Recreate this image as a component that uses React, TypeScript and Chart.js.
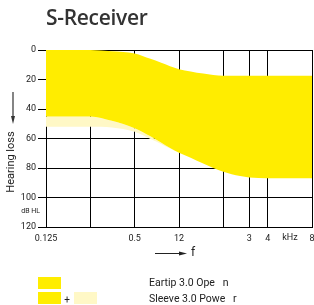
import React, { useEffect, useRef } from "react";
import { Chart, registerables } from "chart.js";

Chart.register(...registerables);

const TITLE = "S-Receiver";
const FREQS = [0.125, 0.25, 0.35, 0.5, 0.64, 0.75, 0.87, 1, 1.2, 1.46, 2, 2.6, 3, 4, 8];
const EARTIP_TOP = [0, 0, 0.8, 2.3, 6, 8.5, 11, 13, 14.5, 16, 17.5, 17.5, 17.5, 17.5, 17.5];
const EARTIP_BOTTOM = [45, 45, 48, 53, 58.5, 62.5, 66.5, 69.7, 73, 77, 82.6, 85.5, 86.5, 87, 87];
const SLEEVE_BOTTOM = [52, 52, 52.5, 55.5, 60.4, 63.5, 66.8, 69.7, 73, 77, 82.6, 85.5, 86.5, 87, 87];
const X_TICKS = [0.125, 0.25, 0.5, 1, 2, 3, 4, 8];
const X_LABELS = ["0.125", "", "0.5", "12", "", "3", "4", "8"];
const Y_TICKS = [0, 20, 40, 60, 80, 100, 120];
const LEGEND_LABELS = ["Eartip 3.0 Ope   n", "Sleeve 3.0 Powe   r"];
const YELLOW = "#FFED00";
const PALE = "#FFF8C6";
const FONT = "Roboto, 'Liberation Sans', sans-serif";

const extras = {
  id: "extras",
  afterDraw(chart: any) {
    const ctx = chart.ctx as CanvasRenderingContext2D;
    const xs = chart.scales.x;
    ctx.save();
    // y arrow
    ctx.strokeStyle = "#333";
    ctx.fillStyle = "#333";
    ctx.lineWidth = 1.2;
    ctx.beginPath();
    ctx.moveTo(13, 92);
    ctx.lineTo(13, 117);
    ctx.stroke();
    ctx.beginPath();
    ctx.moveTo(11, 116);
    ctx.lineTo(15, 116);
    ctx.lineTo(13, 124);
    ctx.closePath();
    ctx.fill();

    // y title
    ctx.save();
    ctx.translate(11, 162);
    ctx.rotate(-Math.PI / 2);
    ctx.font = `11px ${FONT}`;
    ctx.fillStyle = "#222";
    ctx.textAlign = "center";
    ctx.textBaseline = "middle";
    ctx.fillText("Hearing loss", 0, 0);
    ctx.restore();

    // dB HL
    ctx.font = `7px ${FONT}`;
    ctx.fillStyle = "#222";
    ctx.textAlign = "right";
    ctx.textBaseline = "middle";
    ctx.fillText("dB HL", 40, 211);

    // kHz
    ctx.font = `9px ${FONT}`;
    ctx.textAlign = "center";
    ctx.fillText("kHz", xs.getPixelForValue(5.66), 237.5);

    // x arrow
    ctx.lineWidth = 1;
    ctx.strokeStyle = "#222";
    ctx.fillStyle = "#222";
    ctx.beginPath();
    ctx.moveTo(155, 253.5);
    ctx.lineTo(180, 253.5);
    ctx.stroke();
    ctx.beginPath();
    ctx.moveTo(179, 251.5);
    ctx.lineTo(187, 253.5);
    ctx.lineTo(179, 255.5);
    ctx.closePath();
    ctx.fill();
    ctx.font = `12px ${FONT}`;
    ctx.textAlign = "left";
    ctx.fillText("f", 191, 253);

    // legend
    ctx.fillStyle = YELLOW;
    ctx.fillRect(38, 277, 23, 12);
    ctx.fillRect(38, 292, 23, 12);
    ctx.fillStyle = PALE;
    ctx.fillRect(74, 292, 23, 12);
    ctx.fillStyle = "#222";
    ctx.font = `10px ${FONT}`;
    ctx.textAlign = "center";
    ctx.fillText("+", 67, 300);
    ctx.textAlign = "left";
    ctx.font = `10.5px ${FONT}`;
    ctx.fillText(LEGEND_LABELS[0], 149, 283.5);
    ctx.fillText(LEGEND_LABELS[1], 149, 299);
    ctx.restore();
  },
};

export default function App() {
  const ref = useRef<HTMLCanvasElement | null>(null);
  useEffect(() => {
    if (!ref.current) return;
    const mk = (arr: number[]) => FREQS.map((f, i) => ({ x: f, y: arr[i] }));
    const common = {
      pointRadius: 0,
      borderWidth: 0,
      cubicInterpolationMode: "monotone" as const,
    };
    const chart = new Chart(ref.current, {
      type: "line",
      data: {
        datasets: [
          { ...common, label: "top", data: mk(EARTIP_TOP), fill: false, borderColor: "transparent" },
          { ...common, label: "eartip", data: mk(EARTIP_BOTTOM), fill: 0, backgroundColor: YELLOW, borderColor: "transparent" },
          { ...common, label: "sleeve", data: mk(SLEEVE_BOTTOM), fill: 1, backgroundColor: PALE, borderColor: "transparent" },
        ],
      },
      options: {
        animation: false,
        responsive: false,
        layout: { padding: { top: 50, left: 0, right: 2, bottom: 0 } },
        plugins: { legend: { display: false }, tooltip: { enabled: false }, title: { display: false } },
        scales: {
          x: {
            type: "logarithmic",
            min: 0.125,
            max: 8,
            z: 1,
            afterBuildTicks: (s: any) => {
              s.ticks = X_TICKS.map((v) => ({ value: v }));
            },
            afterFit: (s: any) => {
              s.height = 78;
              s.paddingLeft = 0;
              s.paddingRight = 0;
            },
            grid: { color: "#000", lineWidth: 1, drawTicks: false },
            border: { color: "#000", width: 1 },
            ticks: {
              autoSkip: false,
              maxRotation: 0,
              padding: 6,
              color: "#222",
              font: { family: FONT, size: 9 },
              callback: (_v: any, i: number) => X_LABELS[i],
            },
          },
          y: {
            type: "linear",
            reverse: true,
            min: 0,
            max: 120,
            z: 1,
            afterBuildTicks: (s: any) => {
              s.ticks = Y_TICKS.map((v) => ({ value: v }));
            },
            afterFit: (s: any) => {
              s.width = 46;
              s.paddingTop = 0;
              s.paddingBottom = 0;
            },
            grid: { color: "#000", lineWidth: 1, tickLength: 8 },
            border: { color: "#000", width: 1 },
            ticks: {
              padding: 2,
              color: "#222",
              font: { family: FONT, size: 9 },
            },
          },
        },
      },
      plugins: [extras],
    });
    return () => chart.destroy();
  }, []);
  return (
    <div style={{ position: "fixed", left: 0, top: 0, width: 314, height: 305, background: "#fff" }}>
      <div
        style={{
          position: "absolute",
          left: 46,
          top: 3,
          fontFamily: "'Open Sans', sans-serif",
          fontWeight: 600,
          fontSize: 21,
          lineHeight: "28px",
          color: "#333",
          letterSpacing: "-0.3px",
          zIndex: 2,
        }}
      >
        {TITLE}
      </div>
      <canvas ref={ref} width={314} height={305} style={{ width: 314, height: 305, display: "block" }} />
    </div>
  );
}
